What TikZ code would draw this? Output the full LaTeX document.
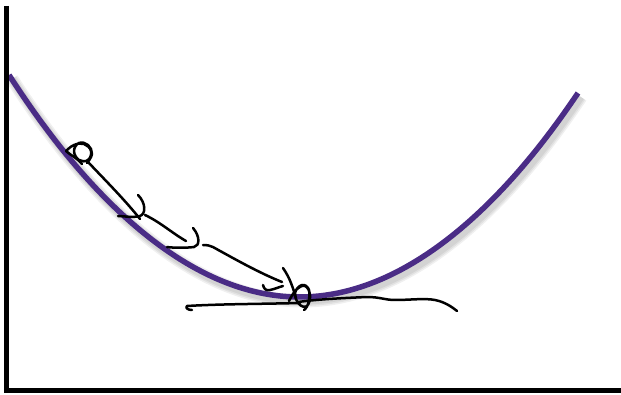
\documentclass[tikz,border=0pt]{standalone}
\begin{document}
\begin{tikzpicture}[x=1pt,y=-1pt,
  axisline/.style={line width=5pt,black},
  curveline/.style={line width=5.5pt,draw=curvepurple},
  shadowline/.style={line width=#1,draw=black,opacity=0.06},
  pen/.style={line width=2.5pt,black,line cap=round,line join=round}]
\definecolor{curvepurple}{HTML}{4A2C86}
\useasboundingbox (0,0) rectangle (621,395);
\fill[white] (0,0) rectangle (621,395);
% shadow of the curve
\foreach \w in {13pt,10pt,7pt}{
  \draw[shadowline=\w,shift={(3,4)}] (9,75) parabola bend (299.5,297) (578,93);
}
% curve
\draw[curveline] (9,75) parabola bend (299.5,297) (578,93);
% axes
\draw[axisline] (6.5,6) -- (6.5,390.5) -- (621,390.5);
% top scribble
\draw[pen] plot[smooth,tension=0.7] coordinates {(66,151) (74,145) (84,144) (91,151) (88,160) (79,160) (74,151) (79,143) (88,145) (92,154) (87,163)};
\draw[pen] (66,151) .. controls (70,155) and (76,157) .. (82,164);
% strokes
\draw[pen] (88,162) .. controls (105,180) and (125,200) .. (140,219);
\draw[pen] (138,195) .. controls (146,203) and (146,214) .. (140,216) .. controls (132,218) and (124,216) .. (118,216);
\draw[pen] (145,215) .. controls (160,222) and (172,233) .. (186,241);
\draw[pen] (193,228) .. controls (200,236) and (200,246) .. (194,247) .. controls (186,248) and (174,248) .. (167,247);
\draw[pen] (203,245) .. controls (212,245) and (214,248) .. (222,252) .. controls (240,262) and (262,274) .. (282,282);
\draw[pen] (283,268) .. controls (290,278) and (293,288) .. (296,298);
\draw[pen] (263,285) .. controls (264,289) and (266,291) .. (270,290) .. controls (275,289) and (279,287) .. (283,286);
% bottom scribble
\draw[pen] plot[smooth,tension=0.7] coordinates {(289,301) (296,290) (305,286) (310,295) (307,306) (299,304) (295,293) (302,285) (309,290) (308,304) (304,310)};
% horizontal stroke
\draw[pen] (192,310) .. controls (188,310) and (185,308) .. (187,306) .. controls (220,304) and (260,304) .. (300,303);
\draw[pen] (298,302) .. controls (320,299) and (345,298) .. (367,297) .. controls (380,297) and (385,300) .. (395,300) .. controls (410,300) and (425,298) .. (435,300) .. controls (445,302) and (452,307) .. (457,311);
\end{tikzpicture}
\end{document}
